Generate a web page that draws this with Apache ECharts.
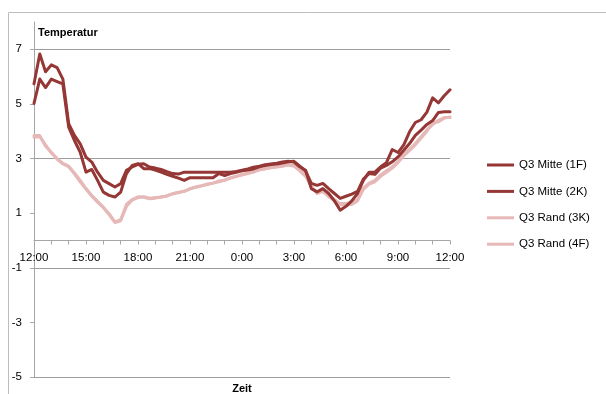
<!DOCTYPE html>
<html>
<head>
<meta charset="utf-8">
<script src="https://cdn.jsdelivr.net/npm/echarts@6/dist/echarts.min.js"></script>
<style>
  html, body { margin: 0; padding: 0; background: #fff; }
  #chart { width: 606px; height: 394px; }
</style>
</head>
<body>
<div id="chart"></div>
<script>
// Temperature readings every 20 minutes, 12:00 to 12:00 next day
const seriesNames = ['Q3 Mitte (1F)', 'Q3 Mitte (2K)', 'Q3 Rand (3K)', 'Q3 Rand (4F)'];

const mitte1F = [
  5.74, 6.83, 6.18, 6.43, 6.33, 5.91, 4.28, 3.85, 3.54, 3.05,
  2.87, 2.50, 2.20, 2.08, 1.96, 2.08, 2.57, 2.69, 2.79, 2.81,
  2.69, 2.65, 2.60, 2.52, 2.45, 2.43, 2.50, 2.50, 2.50, 2.50,
  2.50, 2.50, 2.50, 2.50, 2.50, 2.53, 2.57, 2.62, 2.68, 2.72,
  2.77, 2.80, 2.83, 2.87, 2.90, 2.87, 2.70, 2.57, 1.90, 1.78,
  1.90, 1.72, 1.45, 1.11, 1.25, 1.45, 1.72, 2.20, 2.50, 2.50,
  2.70, 2.85, 3.33, 3.22, 3.50, 3.98, 4.32, 4.42, 4.70, 5.22,
  5.04, 5.30, 5.52
];
const mitte2K = [
  5.02, 5.91, 5.60, 5.91, 5.82, 5.73, 4.15, 3.66, 3.23, 2.50,
  2.60, 2.20, 1.77, 1.65, 1.59, 1.77, 2.45, 2.75, 2.81, 2.63,
  2.63, 2.58, 2.50, 2.42, 2.35, 2.28, 2.20, 2.30, 2.30, 2.30,
  2.30, 2.30, 2.45, 2.38, 2.45, 2.50, 2.55, 2.58, 2.62, 2.70,
  2.74, 2.78, 2.80, 2.84, 2.88, 2.90, 2.72, 2.55, 2.09, 2.02,
  2.09, 1.90, 1.72, 1.54, 1.62, 1.70, 1.80, 2.25, 2.45, 2.42,
  2.65, 2.75, 2.88, 3.06, 3.30, 3.55, 3.85, 4.04, 4.25, 4.39,
  4.69, 4.71, 4.71
];
const rand3K = [
  3.84, 3.84, 3.45, 3.23, 3.00, 2.82, 2.72, 2.47, 2.20, 1.90,
  1.65, 1.43, 1.22, 0.98, 0.68, 0.76, 1.32, 1.50, 1.60, 1.58,
  1.53, 1.55, 1.60, 1.62, 1.72, 1.75, 1.80, 1.90, 1.95, 2.00,
  2.05, 2.10, 2.15, 2.22, 2.28, 2.35, 2.40, 2.45, 2.52, 2.58,
  2.63, 2.66, 2.69, 2.72, 2.78, 2.75, 2.60, 2.40, 1.95, 1.75,
  1.85, 1.65, 1.50, 1.32, 1.30, 1.32, 1.45, 1.87, 2.06, 2.15,
  2.35, 2.50, 2.65, 2.85, 3.10, 3.30, 3.50, 3.75, 4.00, 4.30,
  4.35, 4.48, 4.52
];
const rand4F = [
  3.78, 3.80, 3.50, 3.20, 2.98, 2.80, 2.70, 2.44, 2.15, 1.88,
  1.62, 1.40, 1.20, 0.95, 0.66, 0.72, 1.25, 1.48, 1.57, 1.60,
  1.55, 1.57, 1.58, 1.64, 1.70, 1.77, 1.80, 1.88, 1.96, 2.00,
  2.07, 2.10, 2.18, 2.20, 2.30, 2.34, 2.42, 2.47, 2.50, 2.60,
  2.62, 2.68, 2.70, 2.74, 2.76, 2.72, 2.55, 2.35, 2.00, 1.72,
  1.80, 1.60, 1.45, 1.35, 1.35, 1.38, 1.50, 1.92, 2.10, 2.20,
  2.40, 2.55, 2.70, 2.90, 3.15, 3.35, 3.55, 3.80, 4.05, 4.25,
  4.40, 4.50, 4.50
];

// Time categories: 20-minute steps starting at 12:00
const times = [];
for (let i = 0; i < mitte1F.length; i++) {
  const mins = 12 * 60 + i * 20;
  const h = Math.floor(mins / 60) % 24;
  const m = mins % 60;
  times.push(h + ':' + (m < 10 ? '0' : '') + m);
}
const yTickValues = [-5, -3, -1, 1, 3, 5, 7];
const yMin = -5;
const yMax = 8;

const DARK = '#953735';
const LIGHT = '#e6b9b8';
const FONT = 'Liberation Sans';

const GRID = { left: 34, right: 156, top: 22, bottom: 17 };
const plotHeight = 394 - GRID.top - GRID.bottom;
// lift the time axis from the bottom edge up to the zero line
const zeroOffset = -plotHeight * (0 - yMin) / (yMax - yMin);

const chart = echarts.init(document.getElementById('chart'), null, { renderer: 'canvas' });

function lineSeries(name, data, color, z) {
  return {
    name: name,
    type: 'line',
    data: data,
    symbol: 'none',
    z: z,
    lineStyle: { color: color, width: 3, join: 'round', cap: 'round' },
    itemStyle: { color: color },
    emphasis: { disabled: true },
    animation: false
  };
}

chart.setOption({
  animation: false,
  textStyle: { fontFamily: FONT },
  grid: Object.assign({ containLabel: false }, GRID),
  legend: {
    orient: 'vertical',
    left: 487,
    top: 159,
    padding: 0,
    itemWidth: 27,
    itemHeight: 12,
    itemGap: 14.4,
    icon: 'path://M0,0 L27,0 L27,3 L0,3 Z',
    textStyle: { fontFamily: FONT, fontSize: 11.5, color: '#000' },
    data: seriesNames
  },
  xAxis: {
    type: 'category',
    data: times,
    boundaryGap: false,
    position: 'bottom',
    offset: zeroOffset,
    axisLine: { onZero: false, lineStyle: { color: '#a6a6a6', width: 1 } },
    axisTick: { show: true, interval: 2, length: 4, lineStyle: { color: '#a6a6a6' } },
    axisLabel: { interval: 8, margin: 11, fontFamily: FONT, fontSize: 11.5, color: '#000' },
    splitLine: { show: false }
  },
  yAxis: {
    type: 'value',
    min: yMin,
    max: yMax,
    interval: 1,
    axisLine: { show: true, lineStyle: { color: '#a6a6a6', width: 1 } },
    axisTick: { show: true, length: 4, customValues: yTickValues, lineStyle: { color: '#a6a6a6' } },
    axisLabel: {
      margin: 12,
      fontFamily: FONT,
      fontSize: 11.5,
      color: '#000',
      customValues: yTickValues,
      formatter: function (v) { return yTickValues.indexOf(v) >= 0 ? String(v) : ''; }
    },
    splitLine: {
      show: true,
      lineStyle: { color: ['#9c9c9c', 'rgba(0,0,0,0)'], width: 1 }
    }
  },
  graphic: [
    {
      type: 'rect',
      z: -10,
      shape: { x: 8.5, y: 12.5, width: 800, height: 600 },
      style: { fill: 'none', stroke: '#bdbdbd', lineWidth: 1 },
      silent: true
    },
    {
      type: 'text',
      left: 38,
      top: 27,
      style: { text: 'Temperatur', font: 'bold 11px "Liberation Sans"', fill: '#000' },
      silent: true
    },
    {
      type: 'text',
      x: 242,
      y: 389,
      style: { text: 'Zeit', font: 'bold 11px "Liberation Sans"', fill: '#000', textAlign: 'center', textVerticalAlign: 'middle' },
      silent: true
    }
  ],
  series: [
    lineSeries(seriesNames[0], mitte1F, DARK, 4),
    lineSeries(seriesNames[1], mitte2K, DARK, 4),
    lineSeries(seriesNames[2], rand3K, LIGHT, 3),
    lineSeries(seriesNames[3], rand4F, LIGHT, 3)
  ]
});
</script>
</body>
</html>
